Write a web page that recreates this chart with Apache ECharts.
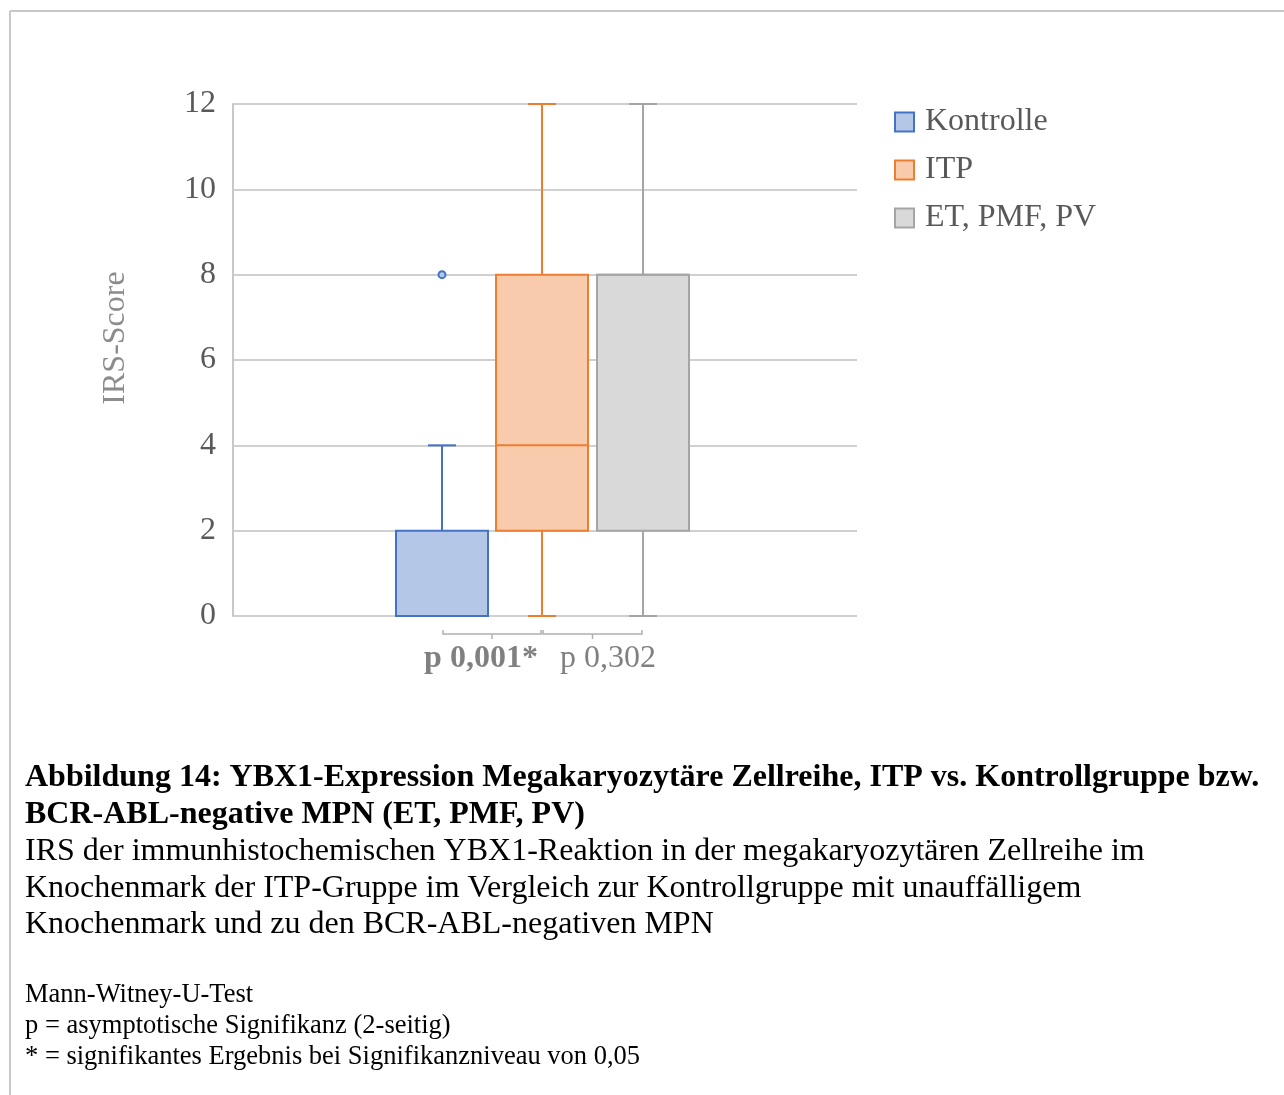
<!DOCTYPE html>
<html><head><meta charset="utf-8">
<script src="https://cdn.jsdelivr.net/npm/echarts@6/dist/echarts.min.js"></script>
<style>html,body{margin:0;padding:0;background:#fff}#c{width:1284px;height:1095px}</style>
</head><body><div id="c"></div>
<script>
// ---- data ----
const seriesNames = ['Kontrolle', 'ITP', 'ET, PMF, PV'];
// [min, Q1, median, Q3, max]
const kontrolleBox = [0, 0, 0, 2, 4];
const itpBox = [0, 2, 4, 8, 12];
const mpnBox = [0, 2, 8, 8, 12];
const kontrolleOutliers = [8];
const itpOutliers = [];
const mpnOutliers = [];
const yTicks = [0, 2, 4, 6, 8, 10, 12];
const pLabels = ['p 0,001*', 'p 0,302'];
const captionBold = ['Abbildung 14: YBX1-Expression Megakaryozytäre Zellreihe, ITP vs. Kontrollgruppe bzw.',
  'BCR-ABL-negative MPN (ET, PMF, PV)'];
const captionText = ['IRS der immunhistochemischen YBX1-Reaktion in der megakaryozytären Zellreihe im',
  'Knochenmark der ITP-Gruppe im Vergleich zur Kontrollgruppe mit unauffälligem',
  'Knochenmark und zu den BCR-ABL-negativen MPN'];
const footnotes = ['Mann-Witney-U-Test', 'p = asymptotische Signifikanz (2-seitig)',
  '* = signifikantes Ergebnis bei Signifikanzniveau von 0,05'];

// ---- styles ----
const boxes = [kontrolleBox, itpBox, mpnBox];
const outliers = [kontrolleOutliers, itpOutliers, mpnOutliers];
const fills = ['#b4c7e7', '#f8cbad', '#d9d9d9'];
const strokes = ['#4472c4', '#ed7d31', '#a5a5a5'];
const offsets = [-103, -3, 98];
const BOXW = 92, CAPW = 28;
const serif = 'Liberation Serif';

const chart = echarts.init(document.getElementById('c'));

function renderItem(params, api) {
  const s = params.seriesIndex;
  const b = [1, 2, 3, 4, 5].map(i => api.value(i));
  const cx = api.coord([api.value(0), 0])[0] + offsets[s];
  const y = v => api.coord([api.value(0), v])[1];
  const st = { stroke: strokes[s], lineWidth: 2 };
  const ch = [];
  ch.push({ type: 'line', shape: { x1: cx, y1: y(b[0]), x2: cx, y2: y(b[1]) }, style: st });
  ch.push({ type: 'line', shape: { x1: cx, y1: y(b[3]), x2: cx, y2: y(b[4]) }, style: st });
  ch.push({ type: 'line', shape: { x1: cx - CAPW / 2, y1: y(b[0]), x2: cx + CAPW / 2, y2: y(b[0]) }, style: st });
  ch.push({ type: 'line', shape: { x1: cx - CAPW / 2, y1: y(b[4]), x2: cx + CAPW / 2, y2: y(b[4]) }, style: st });
  ch.push({ type: 'rect', shape: { x: cx - BOXW / 2, y: y(b[3]), width: BOXW, height: y(b[1]) - y(b[3]) },
    style: { fill: fills[s], stroke: strokes[s], lineWidth: 2 } });
  ch.push({ type: 'line', shape: { x1: cx - BOXW / 2, y1: y(b[2]), x2: cx + BOXW / 2, y2: y(b[2]) }, style: st });
  outliers[s].forEach(v => {
    ch.push({ type: 'circle', shape: { cx: cx, cy: y(v), r: 3.5 }, style: { fill: fills[s], stroke: strokes[s], lineWidth: 2 } });
  });
  return { type: 'group', children: ch };
}

const series = seriesNames.map((n, i) => ({
  type: 'custom', name: n, renderItem: renderItem,
  itemStyle: { color: fills[i], borderColor: strokes[i], borderWidth: 2 },
  encode: { x: 0, y: [1, 2, 3, 4, 5] },
  data: [[0].concat(boxes[i])]
}));

const graphic = [
  { type: 'line', shape: { x1: 10, y1: 11, x2: 1284, y2: 11 }, style: { stroke: '#c8c8c8', lineWidth: 2 } },
  { type: 'line', shape: { x1: 10, y1: 11, x2: 10, y2: 1095 }, style: { stroke: '#c8c8c8', lineWidth: 2 } },
  { type: 'text', x: 116, y: 338, rotation: Math.PI / 2, style: { text: 'IRS-Score', font: '32px "Liberation Serif"', fill: '#8c8c8c', align: 'center', verticalAlign: 'middle' } }
];
let ty = 778;
captionBold.forEach(t => { graphic.push({ type: 'text', x: 25, y: ty, style: { text: t, font: 'bold 32px "Liberation Serif"', fill: '#000', verticalAlign: 'middle' } }); ty += 36.5; });
ty = 852;
captionText.forEach(t => { graphic.push({ type: 'text', x: 25, y: ty, style: { text: t, font: '32px "Liberation Serif"', fill: '#000', verticalAlign: 'middle' } }); ty += 36.5; });
ty = 995;
footnotes.forEach(t => { graphic.push({ type: 'text', x: 25, y: ty, style: { text: t, font: '26.5px "Liberation Serif"', fill: '#000', verticalAlign: 'middle' } }); ty += 31; });

chart.setOption({
  animation: false,
  grid: { left: 233, right: 427, top: 104, bottom: 479 },
  xAxis: { type: 'category', data: [''], axisLine: { show: false }, axisTick: { show: false }, axisLabel: { show: false } },
  yAxis: {
    type: 'value', min: yTicks[0], max: yTicks[yTicks.length - 1], interval: 2,
    axisLine: { show: true, lineStyle: { color: '#c8c8c8', width: 2 } },
    axisTick: { show: false },
    splitLine: { lineStyle: { color: '#d0d0d0', width: 2 } },
    axisLabel: { fontFamily: serif, fontSize: 32, color: '#595959', margin: 17, padding: [4, 0, 0, 0] }
  },
  legend: {
    orient: 'vertical', left: 889, top: 101, itemWidth: 19, itemHeight: 19, itemGap: 16,
    icon: 'rect', textStyle: { fontFamily: serif, fontSize: 32, color: '#595959', padding: [0, 0, 0, 6] },
    data: seriesNames.map((n, i) => ({ name: n, itemStyle: { color: fills[i], borderColor: strokes[i], borderWidth: 2 } }))
  },
  series: series,
  graphic: graphic
});

// p-value brackets between box centres
const base = chart.convertToPixel({ xAxisIndex: 0 }, 0);
const centers = offsets.map(o => base + o);
const y0 = chart.convertToPixel({ yAxisIndex: 0 }, 0);
const extra = [];
const bracketY = y0 + 18;
for (let k = 0; k < 2; k++) {
  const a = centers[k] + 1, b = centers[k + 1] - 1, m = (a + b) / 2;
  extra.push({ type: 'polyline', shape: { points: [[a, bracketY - 4], [a, bracketY], [b, bracketY], [b, bracketY - 4]] }, style: { stroke: '#b0b0b0', lineWidth: 1.5, fill: null } });
  extra.push({ type: 'line', shape: { x1: m, y1: bracketY, x2: m, y2: bracketY + 5 }, style: { stroke: '#b0b0b0', lineWidth: 1.5 } });
}
extra.push({ type: 'text', x: 481, y: y0 + 43, style: { text: pLabels[0], font: 'bold 32px "Liberation Serif"', fill: '#808080', align: 'center', verticalAlign: 'middle' } });
extra.push({ type: 'text', x: 608, y: y0 + 43, style: { text: pLabels[1], font: '32px "Liberation Serif"', fill: '#808080', align: 'center', verticalAlign: 'middle' } });
chart.setOption({ graphic: graphic.concat(extra) });
</script></body></html>
